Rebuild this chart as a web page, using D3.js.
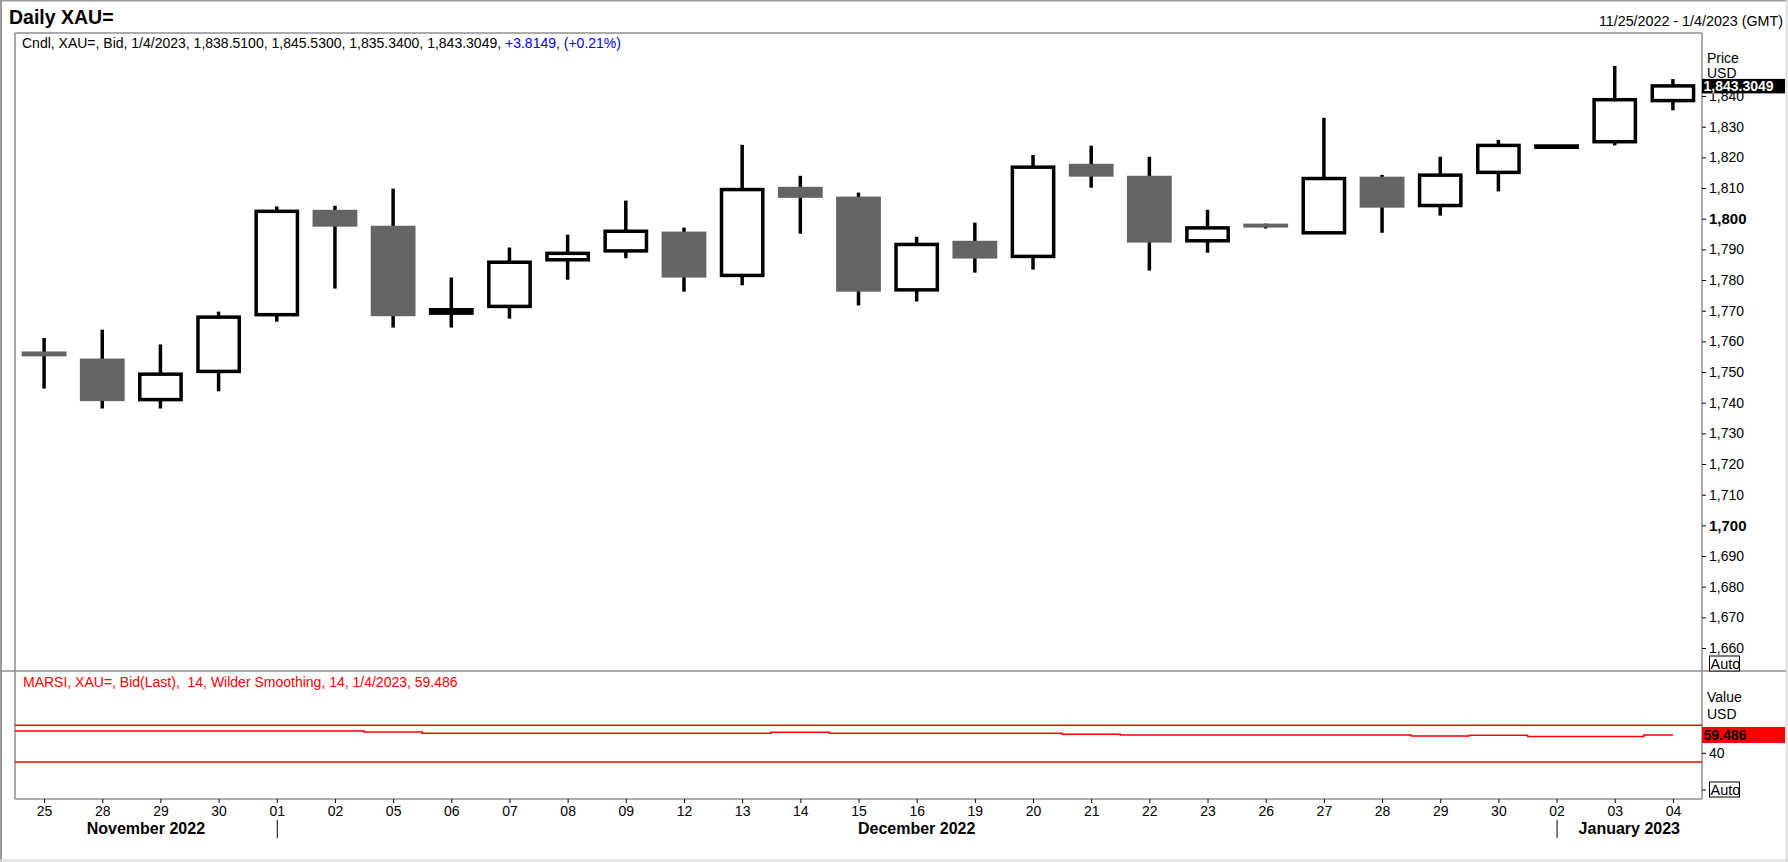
<!DOCTYPE html>
<html>
<head>
<meta charset="utf-8">
<script src="https://cdn.jsdelivr.net/npm/d3@7"></script>
<style>
  body { margin: 0; background: #fff; }
  svg { display: block; font-family: "Liberation Sans", Arial, sans-serif; }
</style>
</head>
<body>
<div class="chart"></div>
<script>
// trading days shown on the chart
const dates = [
  "2022-11-25", "2022-11-28", "2022-11-29", "2022-11-30",
  "2022-12-01", "2022-12-02", "2022-12-05", "2022-12-06", "2022-12-07",
  "2022-12-08", "2022-12-09", "2022-12-12", "2022-12-13", "2022-12-14",
  "2022-12-15", "2022-12-16", "2022-12-19", "2022-12-20", "2022-12-21",
  "2022-12-22", "2022-12-23", "2022-12-26", "2022-12-27", "2022-12-28",
  "2022-12-29", "2022-12-30", "2023-01-02", "2023-01-03", "2023-01-04"
];
const opens = [
  1756.7, 1754.4, 1741.0, 1750.2, 1768.7, 1802.9, 1797.7, 1769.2, 1771.4,
  1786.6, 1789.5, 1795.8, 1781.5, 1810.4, 1807.2, 1776.8, 1792.8, 1787.7,
  1817.9, 1814.0, 1792.8, 1798.4, 1795.4, 1813.7, 1804.3, 1815.1, 1823.3,
  1825.1, 1838.51
];
const highs = [
  1761.1, 1763.8, 1759.0, 1769.7, 1804.0, 1804.2, 1809.8, 1780.8, 1790.6,
  1794.8, 1805.9, 1797.1, 1824.1, 1814.0, 1808.5, 1794.1, 1798.7, 1820.8,
  1823.8, 1820.2, 1802.9, 1798.4, 1832.9, 1814.3, 1820.2, 1825.7, 1823.9,
  1849.8, 1845.53
];
const lows = [
  1744.6, 1738.1, 1738.1, 1743.7, 1766.4, 1777.2, 1764.5, 1764.5, 1767.4,
  1780.1, 1787.1, 1776.2, 1778.3, 1795.1, 1771.7, 1773.0, 1782.4, 1783.4,
  1810.1, 1783.1, 1788.9, 1796.8, 1795.4, 1795.4, 1801.0, 1808.9, 1823.1,
  1823.9, 1835.34
];
const closes = [
  1755.1, 1740.5, 1749.3, 1767.9, 1802.4, 1797.4, 1768.2, 1770.3, 1785.8,
  1788.7, 1795.9, 1780.8, 1809.5, 1806.8, 1776.2, 1791.6, 1787.0, 1816.8,
  1813.7, 1792.2, 1797.0, 1797.1, 1813.1, 1803.6, 1814.2, 1823.9, 1823.7,
  1838.8, 1843.3049
];
// MARSI indicator, one value per day
const rsiValues = [
  63.8, 63.8, 63.8, 63.8, 63.8, 63.8, 62.7, 61.4, 61.3,
  61.3, 61.3, 61.3, 61.3, 62.4, 61.3, 61.3, 61.3, 61.3,
  60.2, 59.4, 59.4, 59.4, 59.4, 59.4, 58.3, 59.2, 57.9,
  57.9, 59.486
];
const rsiBands = [70, 30];
const priceTicks = [1660, 1670, 1680, 1690, 1700, 1710, 1720, 1730, 1740, 1750,
  1760, 1770, 1780, 1790, 1800, 1810, 1820, 1830, 1840];
const boldTicks = [1700, 1800];
const rsiTicks = [0, 40];
const monthLabels = ["November 2022", "December 2022", "January 2023"];
const monthStarts = ["2022-11-25", "2022-12-01", "2023-01-02"];

const W = 1788, H = 862;
const left = 15, right = 1702;
const priceTop = 33, priceBottom = 671, rsiBottom = 799;
const frameColor = "#8f8f8f";

const candles = dates.map((d, i) => ({
  date: d, o: opens[i], h: highs[i], l: lows[i], c: closes[i]
}));

const svg = d3.select(".chart").append("svg")
  .attr("width", W).attr("height", H);

svg.append("rect").attr("width", W).attr("height", H).attr("fill", "#fff");

const x = d3.scalePoint().domain(dates).range([left, right]).padding(0.5);
const y = d3.scaleLinear().domain([1660, 1830]).range([648, 126.7]);
const yR = d3.scaleLinear().domain([30, 70]).range([762, 725.3]);

const bodyW = x.step() * 0.77;

// outer border
svg.append("line").attr("x1", 0).attr("x2", W).attr("y1", 0.5).attr("y2", 0.5)
  .attr("stroke", "#9a9a9a").attr("stroke-width", 2);
svg.append("line").attr("x1", 1).attr("x2", 1).attr("y1", 0).attr("y2", H)
  .attr("stroke", "#9a9a9a").attr("stroke-width", 2);
svg.append("line").attr("x1", W - 1.5).attr("x2", W - 1.5).attr("y1", 0).attr("y2", H)
  .attr("stroke", "#dcdcdc").attr("stroke-width", 2);
svg.append("line").attr("x1", 0).attr("x2", W).attr("y1", H - 1.5).attr("y2", H - 1.5)
  .attr("stroke", "#dcdcdc").attr("stroke-width", 2);

// panel frames
const frame = svg.append("g").attr("stroke", frameColor).attr("stroke-width", 1.5);
frame.append("line").attr("x1", left).attr("x2", right).attr("y1", priceTop).attr("y2", priceTop);
frame.append("line").attr("x1", 0).attr("x2", W - 2).attr("y1", priceBottom).attr("y2", priceBottom);
frame.append("line").attr("x1", left).attr("x2", right).attr("y1", rsiBottom).attr("y2", rsiBottom);
frame.append("line").attr("x1", left).attr("x2", left).attr("y1", priceTop).attr("y2", rsiBottom);
frame.append("line").attr("x1", right).attr("x2", right).attr("y1", priceTop).attr("y2", rsiBottom);

// titles
svg.append("text").attr("x", 9).attr("y", 24)
  .attr("font-size", 19.5).attr("font-weight", "bold").text("Daily XAU=");

svg.append("text").attr("x", W - 5).attr("y", 26).attr("text-anchor", "end")
  .attr("font-size", 14.3).text("11/25/2022 - 1/4/2023 (GMT)");

const last = candles[candles.length - 1];
const fmt4 = d3.format(",.4f");
const info = svg.append("text").attr("x", 22).attr("y", 48).attr("font-size", 14);
info.append("tspan").text("Cndl, XAU=, Bid, 1/4/2023, " +
  [last.o, last.h, last.l, last.c].map(fmt4).join(", ") + ", ");
info.append("tspan").attr("fill", "#0000ff")
  .text("+3.8149, (+0.21%)");

// candles
const cg = svg.append("g");
cg.selectAll("line.wick").data(candles).enter().append("line")
  .attr("class", "wick")
  .attr("x1", d => x(d.date)).attr("x2", d => x(d.date))
  .attr("y1", d => y(d.h)).attr("y2", d => y(d.l))
  .attr("stroke", "#000").attr("stroke-width", 3.5);

cg.selectAll("rect.down").data(candles.filter(d => d.c < d.o)).enter().append("rect")
  .attr("class", "down")
  .attr("x", d => x(d.date) - bodyW / 2)
  .attr("width", bodyW)
  .attr("y", d => y(d.o))
  .attr("height", d => Math.max(3, y(d.c) - y(d.o)))
  .attr("fill", "#646464");

cg.selectAll("rect.up").data(candles.filter(d => d.c >= d.o)).enter().append("rect")
  .attr("class", "up")
  .attr("x", d => x(d.date) - bodyW / 2 + 1.75)
  .attr("width", bodyW - 3.5)
  .attr("y", d => y(d.c))
  .attr("height", d => Math.max(0.5, y(d.o) - y(d.c)))
  .attr("fill", d => (y(d.o) - y(d.c) < 4 ? "#000" : "#fff"))
  .attr("stroke", "#000").attr("stroke-width", 3.5);

// price axis
const yAxis = d3.axisRight(y).tickValues(priceTicks).tickSize(4).tickPadding(3)
  .tickFormat(d3.format(","));
const ya = svg.append("g").attr("transform", `translate(${right},0)`).call(yAxis);
ya.select(".domain").remove();
ya.selectAll("text").attr("font-family", "Liberation Sans, Arial, sans-serif")
  .attr("fill", "#000")
  .attr("font-weight", d => boldTicks.includes(d) ? "bold" : "normal")
  .attr("font-size", d => boldTicks.includes(d) ? 15 : 14);
ya.selectAll("line").attr("stroke", "#000");

svg.append("text").attr("x", 1707).attr("y", 63).attr("font-size", 14).text("Price");
svg.append("text").attr("x", 1707).attr("y", 78).attr("font-size", 14).text("USD");

svg.append("rect").attr("x", right).attr("y", y(last.c) - 7).attr("width", 83).attr("height", 14.5)
  .attr("fill", "#000");
svg.append("text").attr("x", right + 1.5).attr("y", y(last.c)).attr("dy", "0.36em")
  .attr("font-size", 14).attr("font-weight", "bold").attr("fill", "#fff")
  .text(fmt4(last.c));

function autoBox(cy) {
  svg.append("rect").attr("x", 1709.5).attr("y", cy - 7.5).attr("width", 30).attr("height", 15)
    .attr("fill", "#fff").attr("stroke", "#000").attr("stroke-width", 1);
  svg.append("text").attr("x", 1710.5).attr("y", cy).attr("dy", "0.36em")
    .attr("font-size", 14.5).text("Auto");
}
autoBox(663.5);

// RSI panel
svg.append("text").attr("x", 23).attr("y", 687).attr("font-size", 14).attr("fill", "#ff0000")
  .text("MARSI, XAU=, Bid(Last),\u00a0\u00a014, Wilder Smoothing, 14, 1/4/2023, " + rsiValues[rsiValues.length - 1]);

svg.selectAll("line.band").data(rsiBands).enter().append("line")
  .attr("class", "band")
  .attr("x1", left).attr("x2", right)
  .attr("y1", d => yR(d)).attr("y2", d => yR(d))
  .attr("stroke", "#ff0000").attr("stroke-width", 1.5);

const rsiPoints = [{ px: x.range()[0], v: rsiValues[0] }]
  .concat(dates.map((d, i) => ({ px: x(d), v: rsiValues[i] })));
const rsiLine = d3.line().x(d => d.px).y(d => yR(d.v)).curve(d3.curveStep);
svg.append("path").datum(rsiPoints).attr("d", rsiLine)
  .attr("fill", "none").attr("stroke", "#ff0000").attr("stroke-width", 1.5);

const rAxis = d3.axisRight(yR).tickValues(rsiTicks).tickSize(4).tickPadding(3)
  .tickFormat(d => d === 0 ? "" : d);
const ra = svg.append("g").attr("transform", `translate(${right},0)`).call(rAxis);
ra.select(".domain").remove();
ra.selectAll("text").attr("font-size", 14).attr("font-family", "Liberation Sans, Arial, sans-serif")
  .attr("fill", "#000");
ra.selectAll("line").attr("stroke", "#000");

svg.append("text").attr("x", 1707).attr("y", 702).attr("font-size", 14).text("Value");
svg.append("text").attr("x", 1707).attr("y", 719).attr("font-size", 14).text("USD");

const rsiLast = rsiValues[rsiValues.length - 1];
svg.append("rect").attr("x", right).attr("y", yR(rsiLast) - 8).attr("width", 83).attr("height", 16)
  .attr("fill", "#ff0000");
svg.append("text").attr("x", right + 1.5).attr("y", yR(rsiLast)).attr("dy", "0.36em")
  .attr("font-size", 14).attr("font-weight", "bold").attr("fill", "#000")
  .text(rsiLast);
autoBox(yR(0));

// date axis
const xAxis = d3.axisBottom(x).tickSize(4).tickPadding(3).tickFormat(d => d.slice(8));
const xa = svg.append("g").attr("transform", `translate(0,${rsiBottom})`).call(xAxis);
xa.select(".domain").remove();
xa.selectAll("text").attr("font-size", 14).attr("font-family", "Liberation Sans, Arial, sans-serif")
  .attr("fill", "#000");
xa.selectAll("line").attr("stroke", "#000");

const bounds = monthStarts.map((d, i) => (i === 0 ? left : x(d))).concat([right]);
svg.selectAll("line.sep").data(monthStarts.slice(1)).enter().append("line")
  .attr("class", "sep")
  .attr("x1", d => x(d) + 0.5).attr("x2", d => x(d) + 0.5)
  .attr("y1", 820).attr("y2", 838)
  .attr("stroke", "#000").attr("stroke-width", 1);
svg.selectAll("text.month").data(monthLabels).enter().append("text")
  .attr("class", "month")
  .attr("x", (d, i) => (bounds[i] + bounds[i + 1]) / 2)
  .attr("y", 834).attr("text-anchor", "middle")
  .attr("font-size", 16).attr("font-weight", "bold")
  .text(d => d);
</script>
</body>
</html>
